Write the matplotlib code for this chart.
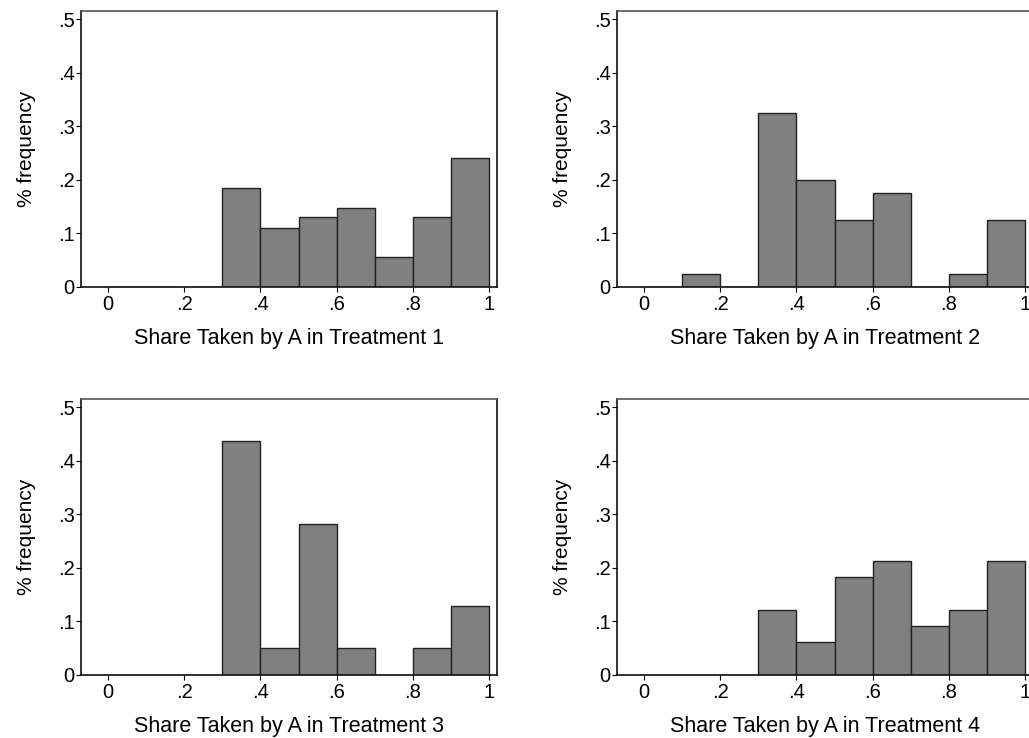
import numpy as np
import matplotlib
matplotlib.use("Agg")
import matplotlib.pyplot as plt

plt.rcParams["font.family"] = ["Liberation Sans", "DejaVu Sans"]

bin_left = [0.0, 0.1, 0.2, 0.3, 0.4, 0.5, 0.6, 0.7, 0.8, 0.9]
treat1 = [0, 0, 0, 0.185, 0.111, 0.130, 0.148, 0.056, 0.130, 0.241]
treat2 = [0, 0.025, 0, 0.325, 0.200, 0.125, 0.175, 0, 0.025, 0.125]
treat3 = [0, 0, 0, 0.436, 0.051, 0.282, 0.051, 0, 0.051, 0.128]
treat4 = [0, 0, 0, 0.121, 0.061, 0.182, 0.212, 0.091, 0.121, 0.212]
labels = ["Share Taken by A in Treatment 1", "Share Taken by A in Treatment 2",
          "Share Taken by A in Treatment 3", "Share Taken by A in Treatment 4"]
xticks = [0, 0.2, 0.4, 0.6, 0.8, 1.0]
xticklabels = ["0", ".2", ".4", ".6", ".8", "1"]
yticks = [0, 0.1, 0.2, 0.3, 0.4, 0.5]
yticklabels = ["0", ".1", ".2", ".3", ".4", ".5"]

W, H = 1029, 738
fig = plt.figure(figsize=(W / 100, H / 100), dpi=100)

# panel boxes in pixels: left, top
boxes = [(81, 11), (617, 11), (81, 399), (617, 399)]
pw, ph = 416, 276

for (lx, ty), vals, lab in zip(boxes, [treat1, treat2, treat3, treat4], labels):
    ax = fig.add_axes([lx / W, (H - ty - ph) / H, pw / W, ph / H])
    ax.bar(bin_left, vals, width=0.1, align="edge", color="#808080",
           edgecolor="#222222", linewidth=1.0)
    ax.set_xlim(-0.0709, 1.021)
    ax.set_ylim(0, 0.515)
    ax.set_xticks(xticks)
    ax.set_xticklabels(xticklabels)
    ax.set_yticks(yticks)
    ax.set_yticklabels(yticklabels)
    ax.tick_params(axis="both", direction="out", length=3.5, width=0.8,
                   labelsize=14.5, color="black")
    ax.tick_params(axis="y", pad=1)
    ax.tick_params(axis="x", pad=2)
    ax.set_xlabel(lab, fontsize=15.5, labelpad=10)
    ax.set_ylabel("% frequency", fontsize=15, labelpad=16)
    for side in ["left", "bottom", "right"]:
        ax.spines[side].set_color("#111111")
        ax.spines[side].set_linewidth(1.2)
    ax.spines["top"].set_color("#555555")
    ax.spines["top"].set_linewidth(1.2)

fig.savefig("out.png", dpi=100)
